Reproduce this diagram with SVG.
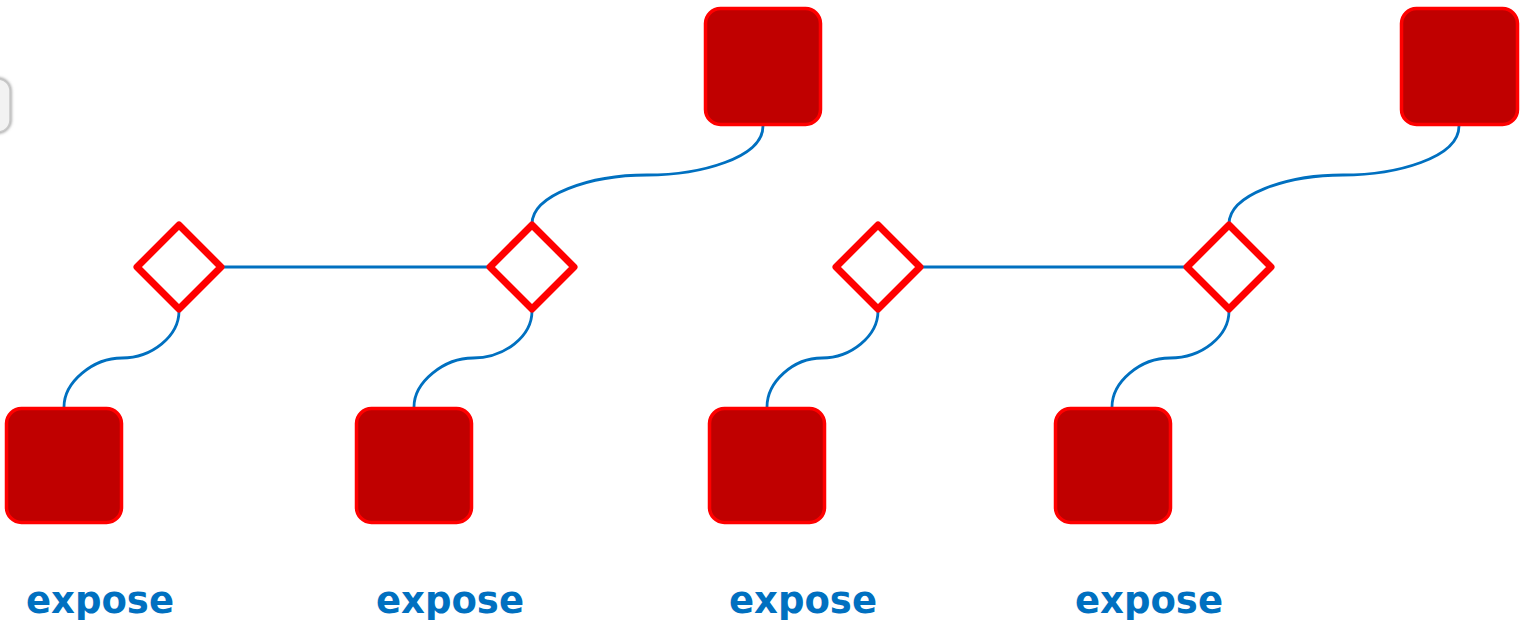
<svg xmlns="http://www.w3.org/2000/svg" width="1527" height="620" viewBox="0 0 1527 620">
<style>
.sq{fill:#C00000;stroke:#FF0000;stroke-width:3.5}
.dm{fill:#FFFFFF;stroke:#FF0000;stroke-width:7;stroke-linejoin:round}
.cn{fill:none;stroke:#0070C0;stroke-width:2.8}
.lb{font-family:"DejaVu Sans",Verdana,sans-serif;font-weight:bold;font-size:37px;fill:#0070C0}
</style>
<defs>
<filter id="sh" x="-50%" y="-50%" width="200%" height="200%"><feGaussianBlur stdDeviation="1.5"/></filter>
</defs>
<g id="partial">
<rect x="-60" y="79" width="70" height="53" rx="12" fill="none" stroke="#999" stroke-width="3" filter="url(#sh)"/>
<rect x="-60" y="79" width="70" height="53" rx="12" fill="#F2F2F2" stroke="#C8C8C8" stroke-width="1.5"/>
</g>
<g id="connectors">
<path class="cn" d="M222,267 H489"/>
<path class="cn" d="M179,311 C179,336 152,358 122,358 C93,358 64,382 64,407"/>
<path class="cn" d="M532,311 C532,336 505,358 473,358 C444,358 414,382 414,407"/>
<path class="cn" d="M763,126 C763,158 700,175 647,175 C590,175 532,195 532,224"/>
<path class="cn" d="M921,267 H1186"/>
<path class="cn" d="M878,311 C878,336 851,358 822,358 C793,358 767,382 767,407"/>
<path class="cn" d="M1229,311 C1229,336 1202,358 1170,358 C1140,358 1112,382 1112,407"/>
<path class="cn" d="M1459,126 C1459,158 1396,175 1343,175 C1286,175 1229,195 1229,224"/>
</g>
<g id="d1"><path class="dm" d="M179,225 L221,267 L179,309 L137,267 Z"/></g>
<g id="d2"><path class="dm" d="M532,225 L574,267 L532,309 L490,267 Z"/></g>
<g id="d3"><path class="dm" d="M878,225 L920,267 L878,309 L836,267 Z"/></g>
<g id="d4"><path class="dm" d="M1229,225 L1271,267 L1229,309 L1187,267 Z"/></g>
<g id="s1"><rect class="sq" x="6.5" y="408.5" width="115" height="114" rx="15"/></g>
<g id="s2"><rect class="sq" x="356.5" y="408.5" width="115" height="114" rx="15"/></g>
<g id="s3"><rect class="sq" x="709.5" y="408.5" width="115" height="114" rx="15"/></g>
<g id="s4"><rect class="sq" x="1055.5" y="408.5" width="115" height="114" rx="15"/></g>
<g id="t1"><rect class="sq" x="705.5" y="8.5" width="115" height="116" rx="15"/></g>
<g id="t2"><rect class="sq" x="1401.5" y="8.5" width="116" height="116" rx="15"/></g>
<g id="labels">
<text class="lb" x="26" y="613">expose</text>
<text class="lb" x="376" y="613">expose</text>
<text class="lb" x="729" y="613">expose</text>
<text class="lb" x="1075" y="613">expose</text>
</g>
</svg>
